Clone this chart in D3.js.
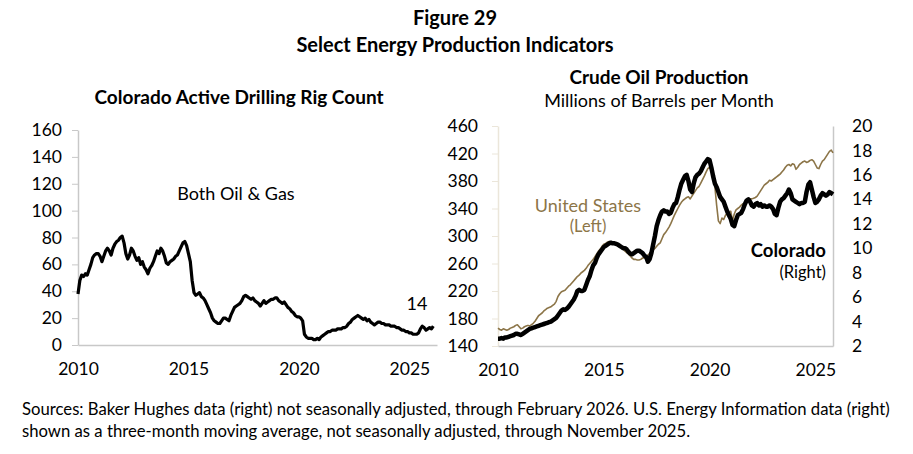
<!DOCTYPE html>
<html>
<head>
<meta charset="utf-8">
<script src="https://cdn.jsdelivr.net/npm/d3@7"></script>
<style>
  body { margin: 0; background: #fff; }
  svg text { font-family: Lato, "Open Sans", sans-serif; fill: #000; }
</style>
</head>
<body>
<svg width="913" height="454"></svg>
<script>
// rig count, monthly Jan 2010 .. Feb 2026
var rigCount = [
    38, 48, 52, 51, 53, 52, 56, 60, 65, 67, 68, 68,
    66, 62, 66, 70, 72, 70, 67, 72, 75, 77, 78, 80,
    81, 76, 68, 64, 67, 72, 70, 66, 63, 65, 60, 62,
    58, 56, 53, 57, 59, 62, 66, 70, 68, 72, 70, 66,
    61, 60, 62, 63, 64, 66, 67, 70, 73, 76, 77, 74,
    68, 62, 48, 39, 37, 38, 39, 36, 35, 33, 30, 27,
    24, 20, 18, 17, 16, 16, 18, 20, 20, 19, 18, 22,
    25, 28, 29, 30, 31, 33, 36, 37, 36, 35, 34, 35,
    33, 32, 31, 29, 31, 33, 31, 32, 33, 34, 34, 35,
    35, 33, 32, 31, 32, 30, 28, 27, 25, 24, 22, 21,
    21, 20, 18, 8, 6, 5, 5, 5, 4, 4, 5, 4,
    6, 7, 8, 9, 10, 10, 11, 11, 11, 12, 12, 12,
    13, 13, 14, 16, 17, 19, 20, 21, 22, 21, 20, 19,
    20, 18, 19, 17, 16, 15, 16, 17, 17, 16, 16, 15,
    15, 15, 14, 14, 14, 13, 13, 12, 11, 11, 10, 10,
    9, 9, 8, 8, 8, 9, 12, 14, 13, 11, 12, 13,
    12, 14
];

// crude oil production, monthly Jan 2010 .. Nov 2025
var usOil = [
    166, 164, 163, 165, 164, 163, 164, 166, 167, 168, 170, 171,
    168, 165, 166, 168, 169, 170, 169, 171, 173, 176, 180, 184,
    186, 188, 191, 193, 195, 196, 197, 199, 201, 205, 212, 216,
    219, 220, 221, 224, 227, 229, 232, 235, 238, 241, 243, 246,
    248, 250, 253, 257, 260, 263, 266, 270, 274, 278, 281, 285,
    288, 289, 291, 292, 291, 290, 291, 289, 287, 285, 284, 281,
    278, 276, 274, 271, 268, 266, 266, 265, 265, 266, 268, 268,
    270, 272, 275, 278, 280, 282, 285, 288, 290, 296, 302, 305,
    309, 313, 318, 324, 330, 335, 340, 345, 349, 352, 354, 356,
    357, 354, 358, 362, 366, 370, 372, 377, 382, 387, 393, 398,
    400, 396, 392, 372, 345, 322, 318, 326, 324, 330, 333, 334,
    336, 322, 332, 338, 340, 342, 345, 347, 346, 350, 352, 354,
    354, 355, 356, 358, 362, 366, 370, 374, 376, 378, 381, 380,
    382, 384, 386, 388, 390, 393, 396, 400, 403, 404, 402, 405,
    404, 397, 400, 404, 406, 408, 409, 407, 408, 410, 411, 409,
    404, 399, 398, 404, 409, 411, 415, 419, 423, 425, 421
];
var coOil = [
    2.6, 2.6, 2.65, 2.6, 2.7, 2.7, 2.75, 2.8, 2.85, 2.9, 3.0, 3.0,
    2.95, 2.9, 3.0, 3.1, 3.2, 3.3, 3.4, 3.45, 3.5, 3.55, 3.6, 3.65,
    3.7, 3.75, 3.8, 3.85, 3.9, 3.95, 4.0, 4.1, 4.2, 4.3, 4.5, 4.7,
    4.9, 5.0, 4.95, 5.05, 5.2, 5.4, 5.6, 5.8, 6.1, 6.5, 6.6, 6.5,
    6.5, 6.6, 7.0, 7.4, 7.7, 8.2, 8.6, 8.8, 9.2, 9.5, 9.7, 9.9,
    10.1, 10.2, 10.3, 10.4, 10.45, 10.4, 10.4, 10.35, 10.3, 10.2, 10.1, 10.0,
    10.0, 9.9, 9.7, 9.55, 9.5, 9.6, 9.7, 9.8, 9.8, 9.7, 9.6, 9.4,
    9.3, 8.9, 9.1, 9.6, 10.3, 11.0, 11.8, 12.3, 12.7, 13.0, 13.1, 13.0,
    13.0, 12.8, 12.9, 13.3, 13.6, 13.7, 14.2, 14.8, 15.3, 15.6, 15.9, 16.0,
    15.5, 14.8, 14.6, 15.3, 15.8, 16.0, 16.1, 16.3, 16.6, 16.9, 17.1, 17.3,
    17.2, 16.6, 15.9, 15.3, 15.0, 14.6, 14.2, 14.0, 13.8, 13.4, 13.0, 12.7,
    12.4, 11.9, 11.8, 12.3, 12.7, 12.8, 12.9, 13.2, 13.6, 13.9, 14.0, 13.8,
    13.5, 13.4, 13.6, 13.7, 13.5, 13.6, 13.4, 13.5, 13.4, 13.4, 13.5, 13.4,
    13.2, 12.8, 12.7, 13.3, 13.8, 14.0, 14.1, 14.3, 14.5, 14.8, 14.5, 14.0,
    13.9, 13.8, 13.7, 13.6, 13.7, 13.7, 13.8, 14.6, 15.2, 15.4, 14.8, 14.2,
    13.7, 13.8, 14.0, 14.3, 14.5, 14.4, 14.3, 14.4, 14.6, 14.5, 14.4
];

var yearTicks = [2010, 2015, 2020, 2025];
var rigTicks = [0, 20, 40, 60, 80, 100, 120, 140, 160];
var usTicks = [140, 180, 220, 260, 300, 340, 380, 420, 460];
var coTicks = [2, 4, 6, 8, 10, 12, 14, 16, 18, 20];

var svg = d3.select('svg');
var gold = '#8c7548';
var axisGray = '#c8c8c8';

function monthly(arr) {
    return arr.map((v, i) => ({ t: 2010 + i / 12, v: v }));
}

function styleAxis(g, lineColor) {
    g.select('.domain').attr('stroke', lineColor).attr('stroke-width', 1.5);
    g.selectAll('.tick line').attr('stroke', lineColor);
    g.selectAll('.tick text').style('font-size', '17.5px').attr('fill', '#000');
}

// titles
svg.append('text').attr('x', 455).attr('y', 25).attr('text-anchor', 'middle')
    .style('font-size', '20px').style('font-weight', 'bold').text('Figure 29');
svg.append('text').attr('x', 455).attr('y', 52).attr('text-anchor', 'middle')
    .style('font-size', '20px').style('font-weight', 'bold').text('Select Energy Production Indicators');

// ---- left chart: rig count
var x1 = d3.scaleLinear().domain([2010, 2026.25]).range([78, 437]);
var y1 = d3.scaleLinear().domain([0, 160]).range([345, 130]);

svg.append('text').attr('x', 239).attr('y', 104).attr('text-anchor', 'middle')
    .style('font-size', '19px').style('font-weight', 'bold').text('Colorado Active Drilling Rig Count');

var ya1 = svg.append('g').attr('transform', 'translate(78,0)')
    .call(d3.axisLeft(y1).tickValues(rigTicks).tickSize(6).tickPadding(10).tickSizeOuter(0));
styleAxis(ya1, axisGray);
var xa1 = svg.append('g').attr('transform', 'translate(0,345)')
    .call(d3.axisBottom(x1).tickValues(yearTicks).tickFormat(d3.format('d')).tickSize(0).tickPadding(18));
styleAxis(xa1, axisGray);

svg.append('path').datum(monthly(rigCount))
    .attr('fill', 'none').attr('stroke', '#000').attr('stroke-width', 3.2).attr('stroke-linejoin', 'round')
    .attr('d', d3.line().x(d => x1(d.t)).y(d => y1(d.v)));

svg.append('text').attr('x', 236).attr('y', 200).attr('text-anchor', 'middle')
    .style('font-size', '18px').text('Both Oil & Gas');
svg.append('text').attr('x', 417).attr('y', 310).attr('text-anchor', 'middle')
    .style('font-size', '18px').text('14');

// ---- right chart: crude oil production
var x2 = d3.scaleLinear().domain([2010, 2010 + 190 / 12]).range([498, 833]);
var y2 = d3.scaleLinear().domain([140, 460]).range([346, 126]);
var y2r = d3.scaleLinear().domain([2, 20]).range([346, 126]);

svg.append('text').attr('x', 659).attr('y', 84).attr('text-anchor', 'middle')
    .style('font-size', '19px').style('font-weight', 'bold').text('Crude Oil Production');
svg.append('text').attr('x', 659).attr('y', 107).attr('text-anchor', 'middle')
    .style('font-size', '18px').text('Millions of Barrels per Month');

var ya2 = svg.append('g').attr('transform', 'translate(498,0)')
    .call(d3.axisLeft(y2).tickValues(usTicks).tickSize(6).tickPadding(14).tickSizeOuter(0));
styleAxis(ya2, '#ebe6da');
var yr2 = svg.append('g').attr('transform', 'translate(833,0)')
    .call(d3.axisRight(y2r).tickValues(coTicks).tickSize(0).tickPadding(19).tickSizeOuter(0));
styleAxis(yr2, axisGray);
var xa2 = svg.append('g').attr('transform', 'translate(0,346)')
    .call(d3.axisBottom(x2).tickValues(yearTicks).tickFormat(d3.format('d')).tickSize(0).tickPadding(18));
styleAxis(xa2, axisGray);

svg.append('path').datum(monthly(usOil))
    .attr('fill', 'none').attr('stroke', gold).attr('stroke-width', 1.6).attr('stroke-linejoin', 'round')
    .attr('d', d3.line().x(d => x2(d.t)).y(d => y2(d.v)));
svg.append('path').datum(monthly(coOil))
    .attr('fill', 'none').attr('stroke', '#000').attr('stroke-width', 4.5).attr('stroke-linejoin', 'round')
    .attr('d', d3.line().x(d => x2(d.t)).y(d => y2r(d.v)));

svg.append('text').attr('x', 588).attr('y', 212).attr('text-anchor', 'middle')
    .style('font-size', '18px').style('fill', gold).text('United States');
svg.append('text').attr('x', 588).attr('y', 232).attr('text-anchor', 'middle')
    .style('font-size', '16.5px').style('fill', gold).text('(Left)');
svg.append('text').attr('x', 826).attr('y', 257).attr('text-anchor', 'end')
    .style('font-size', '18.5px').style('font-weight', 'bold').text('Colorado');
svg.append('text').attr('x', 826).attr('y', 278).attr('text-anchor', 'end')
    .style('font-size', '16.5px').text('(Right)');

// footnote
svg.append('text').attr('x', 22).attr('y', 415)
    .style('font-size', '16.7px')
    .text('Sources: Baker Hughes data (right) not seasonally adjusted, through February 2026. U.S. Energy Information data (right)');
svg.append('text').attr('x', 22).attr('y', 437)
    .style('font-size', '16.7px')
    .text('shown as a three-month moving average, not seasonally adjusted, through November 2025.');
</script>
</body>
</html>
